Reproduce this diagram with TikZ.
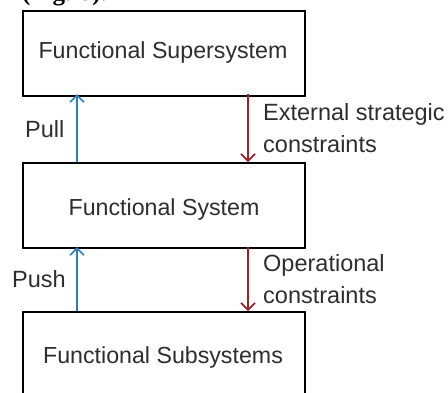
\documentclass[tikz,border=0pt]{standalone}
\usepackage{fontspec}
\setmainfont{Liberation Sans}
\newfontfamily\capfont{Liberation Serif}
\usetikzlibrary{arrows.meta}
\definecolor{txtgray}{HTML}{2E2E2E}
\definecolor{pullblue}{HTML}{2F7DB8}
\definecolor{constred}{HTML}{A3202B}
\tikzset{
  sysbox/.style={draw=black, line width=1.8pt, fill=white, minimum width=282pt, minimum height=85pt, inner sep=0pt, anchor=north west},
  boxtext/.style={anchor=base, inner sep=0pt, text=txtgray, font=\fontsize{23.2}{27}\selectfont},
  lbl/.style={text=txtgray, font=\fontsize{23.5}{32}\selectfont, inner sep=0pt, anchor=base west, align=left},
  uparrow/.style={draw=pullblue, line width=1.6pt, -{Straight Barb[length=7pt,width=14pt,line width=1.6pt]}},
  downarrow/.style={draw=constred, line width=1.6pt, -{Straight Barb[length=7pt,width=14pt,line width=1.6pt]}}
}
\begin{document}
\begin{tikzpicture}[x=1pt,y=-1pt]
\useasboundingbox (0,0) rectangle (448,392);
\clip (0,0) rectangle (448,392);
\fill[white] (0,0) rectangle (448,392);
% caption running in from above
\node[anchor=base west, inner sep=0pt, font=\capfont\bfseries\fontsize{25}{30}\selectfont] (cap) at (22,0) {(Fig. 5).};
% the three levels
\node[sysbox] (super) at (22,10) {};
\node[sysbox] (sys) at (22,162) {};
\node[sysbox] (sub) at (22,311) {};
\node[boxtext] (tsuper) at (163,58) {Functional Supersystem};
\node[boxtext] (tsys) at (164,215) {Functional System};
\node[boxtext] (tsub) at (163,363) {Functional Subsystems};
% arrow end points on the box edges
\coordinate (a1) at (77,94);
\coordinate (a2) at (77,162);
\coordinate (a3) at (77,247);
\coordinate (a4) at (77,311);
\coordinate (b1) at (248,94);
\coordinate (b2) at (248,162);
\coordinate (b3) at (248,247);
\coordinate (b4) at (248,311);
\draw[uparrow] (a2) -- (a1);
\draw[uparrow] (a4) -- (a3);
\draw[downarrow] (b1) -- (b2);
\draw[downarrow] (b3) -- (b4);
% labels (base anchor sits on the last line)
\node[lbl] (pull) at (25,137) {Pull};
\node[lbl] (push) at (12,287) {Push};
\node[lbl] (ext) at (263,152) {External strategic\\constraints};
\node[lbl] (op) at (263,303) {Operational\\constraints};
\end{tikzpicture}
\end{document}
